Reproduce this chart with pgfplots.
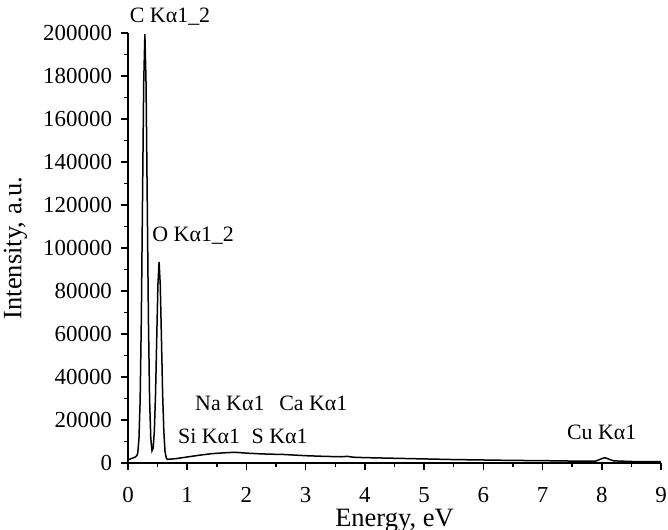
\documentclass[border=0pt]{standalone}
\usepackage{pgfplots}
\pgfplotsset{compat=1.18}
\usepackage{fontspec}
\setmainfont{Liberation Serif}
\begin{document}
\begin{tikzpicture}
\useasboundingbox (-64bp,-33.5bp) rectangle (270bp,231.5bp);
\begin{axis}[
  at={(0,0)}, anchor=south west,
  scale only axis,
  width=266.5bp, height=215bp,
  xmin=0, xmax=9, ymin=0, ymax=200000,
  axis lines*=left,
  axis line style={line width=0.75bp},
  every tick/.style={line width=0.75bp, black},
  tick align=outside,
  major tick length=3.5bp,
  minor tick length=2bp,
  xtick={0,1,...,9},
  minor x tick num=1,
  ytick={0,20000,...,200000},
  minor y tick num=1,
  scaled y ticks=false,
  /pgf/number format/assume math mode=true,
  /pgf/number format/fixed,
  /pgf/number format/1000 sep={},
  yticklabel style={xshift=-1bp},
  xticklabel style={inner sep=0pt, yshift=-8.3bp},
  tick label style={font=\fontsize{11.5}{12}\selectfont},
  label style={font=\fontsize{13.3}{14}\selectfont},
  xlabel={Energy, eV},
  ylabel={Intensity, a.u.},
  xlabel style={inner sep=0pt, yshift=-2.9bp},
  ylabel style={inner sep=0pt, yshift=4.5bp},
  clip=false,
]
\addplot[black, line width=0.75bp] coordinates {
(0,1500) (0.05,2000) (0.10,2500) (0.125,2800) (0.15,3500) (0.165,4700)
(0.185,11150) (0.205,29150) (0.225,66500) (0.245,122000) (0.265,176400)
(0.285,199500) (0.305,176400) (0.325,122000) (0.345,66500) (0.365,29200)
(0.385,11350) (0.405,5700) (0.425,6900) (0.445,14800) (0.465,32000)
(0.485,57700) (0.505,82800) (0.525,93500) (0.545,82800) (0.565,57700)
(0.585,32000) (0.605,14800) (0.625,5500) (0.645,2500) (0.665,1700)
(0.8,2000) (1.0,2800) (1.2,3600) (1.4,4300) (1.6,4700) (1.8,5000)
(2.0,4600) (2.2,4300) (2.4,4100) (2.6,4000) (2.8,3700) (3.0,3400)
(3.3,3100) (3.6,2900) (3.7,3100) (3.8,2700) (4.0,2500) (4.5,2200)
(5.0,1900) (5.5,1600) (6.0,1400) (6.5,1200) (7.0,1100) (7.5,900)
(7.9,900) (7.98,1800) (8.05,2500) (8.12,1800) (8.2,1000) (8.5,700) (9,600)
};
\begin{scope}[every node/.style={font=\fontsize{11}{12}\selectfont, anchor=base, inner sep=0pt}]
\node at (axis cs:0.71,205000) {C Kα1\_2};
\node at (axis cs:1.10,102800) {O Kα1\_2};
\node at (axis cs:1.72,24650) {Na Kα1};
\node at (axis cs:3.13,24650) {Ca Kα1};
\node at (axis cs:1.37,9150) {Si Kα1};
\node at (axis cs:2.56,9150) {S Kα1};
\node at (axis cs:8.0,10700) {Cu Kα1};
\end{scope}
\end{axis}
\end{tikzpicture}
\end{document}
